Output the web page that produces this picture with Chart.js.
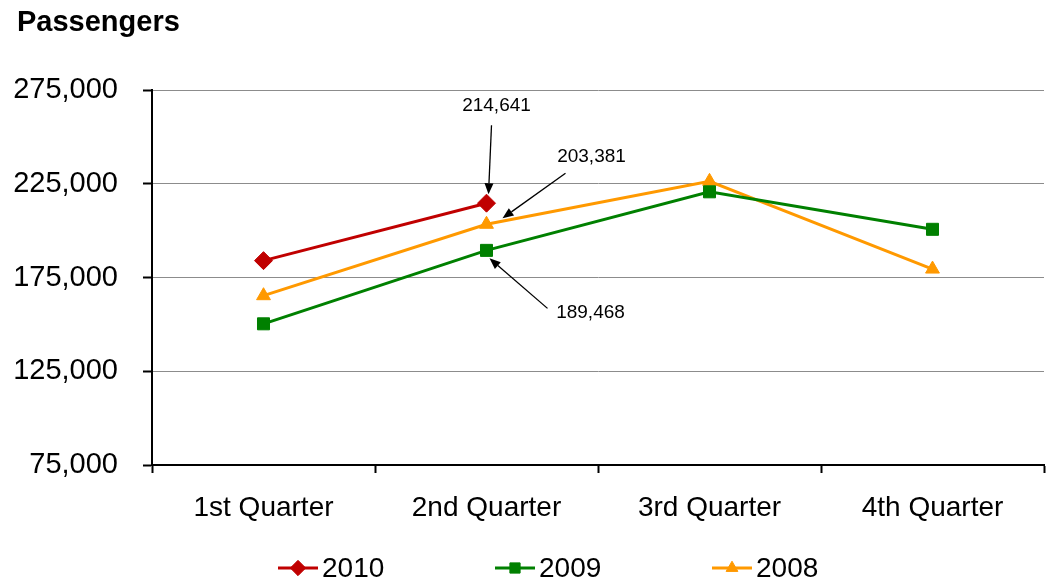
<!DOCTYPE html>
<html>
<head>
<meta charset="utf-8">
<script src="https://cdn.jsdelivr.net/npm/chart.js@4.4.1/dist/chart.umd.min.js"></script>
<style>
  html, body { margin: 0; padding: 0; background: #fff; }
  #wrap { width: 1047px; height: 581px; position: relative; }
</style>
</head>
<body>
<div id="wrap"><canvas id="line-chart"></canvas></div>
<script>
const quarters = ['1st Quarter', '2nd Quarter', '3rd Quarter', '4th Quarter'];
const years = ['2010', '2009', '2008'];
const passengers2010 = [184000, 214641];
const passengers2009 = [150300, 189468, 220700, 200700];
const passengers2008 = [165300, 203381, 226300, 179500];
const yTicks = [75000, 125000, 175000, 225000, 275000];

const FONT = "'Liberation Sans', Arial, sans-serif";

// callouts on the 2nd quarter values (offsets from the point, in px)
const callouts = [
  { dataset: 0, index: 1, text: [10, -97], tail: [5, -78], tip: [2, -9] },
  { dataset: 2, index: 1, text: [105, -68], tail: [79, -51], tip: [16, -6] },
  { dataset: 1, index: 1, text: [104, 62], tail: [61, 58], tip: [3, 8] }
];

function drawArrow(ctx, x1, y1, x2, y2) {
  const a = Math.atan2(y2 - y1, x2 - x1);
  const len = 11, w = 4.5;
  const bx = x2 - Math.cos(a) * len, by = y2 - Math.sin(a) * len;
  ctx.beginPath();
  ctx.moveTo(x1, y1);
  ctx.lineTo(bx, by);
  ctx.stroke();
  ctx.beginPath();
  ctx.moveTo(x2, y2);
  ctx.lineTo(bx - Math.sin(a) * w, by + Math.cos(a) * w);
  ctx.lineTo(bx + Math.sin(a) * w, by - Math.cos(a) * w);
  ctx.closePath();
  ctx.fill();
}

const extras = {
  id: 'extras',
  afterDatasetsDraw(chart) {
    const ctx = chart.ctx;
    ctx.save();
    // title
    ctx.fillStyle = '#000';
    ctx.font = 'bold 29px ' + FONT;
    ctx.textAlign = 'left';
    ctx.textBaseline = 'middle';
    ctx.fillText('Passengers', 17, 23);

    // callouts
    ctx.font = '19px ' + FONT;
    ctx.textAlign = 'center';
    ctx.strokeStyle = '#000';
    ctx.lineWidth = 1.3;
    callouts.forEach(c => {
      const pt = chart.getDatasetMeta(c.dataset).data[c.index];
      const v = chart.data.datasets[c.dataset].data[c.index];
      ctx.fillText(v.toLocaleString('en-US'), pt.x + c.text[0], pt.y + c.text[1]);
      drawArrow(ctx, pt.x + c.tail[0], pt.y + c.tail[1], pt.x + c.tip[0], pt.y + c.tip[1]);
    });

    // legend: line + marker, then label
    ctx.font = '28px ' + FONT;
    ctx.textAlign = 'left';
    chart.data.datasets.forEach((ds, i) => {
      const x = 278 + i * 217, y = 568;
      ctx.strokeStyle = ds.borderColor;
      ctx.fillStyle = ds.borderColor;
      ctx.lineWidth = 3;
      ctx.beginPath();
      ctx.moveTo(x, y);
      ctx.lineTo(x + 40, y);
      ctx.stroke();
      ctx.lineWidth = 1;
      Chart.helpers.drawPoint(ctx, {
        pointStyle: ds.pointStyle, rotation: 0,
        radius: ds.pointRadius * 0.85, borderWidth: 1
      }, x + 20, y);
      ctx.fillStyle = '#000';
      ctx.fillText(ds.label, x + 44, y + 1);
    });
    ctx.restore();
  }
};

const ctx = document.getElementById('line-chart').getContext('2d');

new Chart(ctx, {
  type: 'line',
  data: {
    labels: quarters,
    datasets: [
      {
        label: years[0],
        data: passengers2010,
        borderColor: '#C00000',
        backgroundColor: '#C00000',
        pointStyle: 'rectRot',
        pointRadius: 9
      },
      {
        label: years[1],
        data: passengers2009,
        borderColor: '#008000',
        backgroundColor: '#008000',
        pointStyle: 'rect',
        pointRadius: 8.5
      },
      {
        label: years[2],
        data: passengers2008,
        borderColor: '#FF9900',
        backgroundColor: '#FF9900',
        pointStyle: 'triangle',
        pointRadius: 8
      }
    ]
  },
  options: {
    responsive: true,
    maintainAspectRatio: false,
    animation: false,
    layout: { autoPadding: false, padding: { top: 90, right: 3, left: 0, bottom: 0 } },
    elements: {
      line: { borderWidth: 3, tension: 0 },
      point: { borderWidth: 1, hoverRadius: 9 }
    },
    plugins: {
      legend: { display: false },
      title: { display: false },
      tooltip: { enabled: false }
    },
    scales: {
      x: {
        offset: true,
        grid: {
          offset: true,
          drawOnChartArea: false,
          drawTicks: true,
          tickLength: 8,
          tickColor: '#000',
          tickWidth: 2
        },
        border: { color: '#000', width: 2 },
        ticks: {
          color: '#000',
          padding: 18,
          font: { family: FONT, size: 28 }
        },
        afterFit(scale) {
          scale.height = 116;
          scale.paddingLeft = 0;
          scale.paddingRight = 0;
        }
      },
      y: {
        min: 75000,
        max: 275000,
        afterBuildTicks(scale) {
          scale.ticks = yTicks.map(v => ({ value: v }));
        },
        grid: {
          color: '#8c8c8c',
          lineWidth: 1,
          tickLength: 9,
          tickColor: '#000',
          tickWidth: 2
        },
        border: { color: '#000', width: 2 },
        ticks: {
          color: '#000',
          padding: 25,
          font: { family: FONT, size: 29 },
          callback: v => v.toLocaleString('en-US')
        },
        afterFit(scale) { scale.width = 152; }
      }
    }
  },
  plugins: [extras]
});
</script>
</body>
</html>
